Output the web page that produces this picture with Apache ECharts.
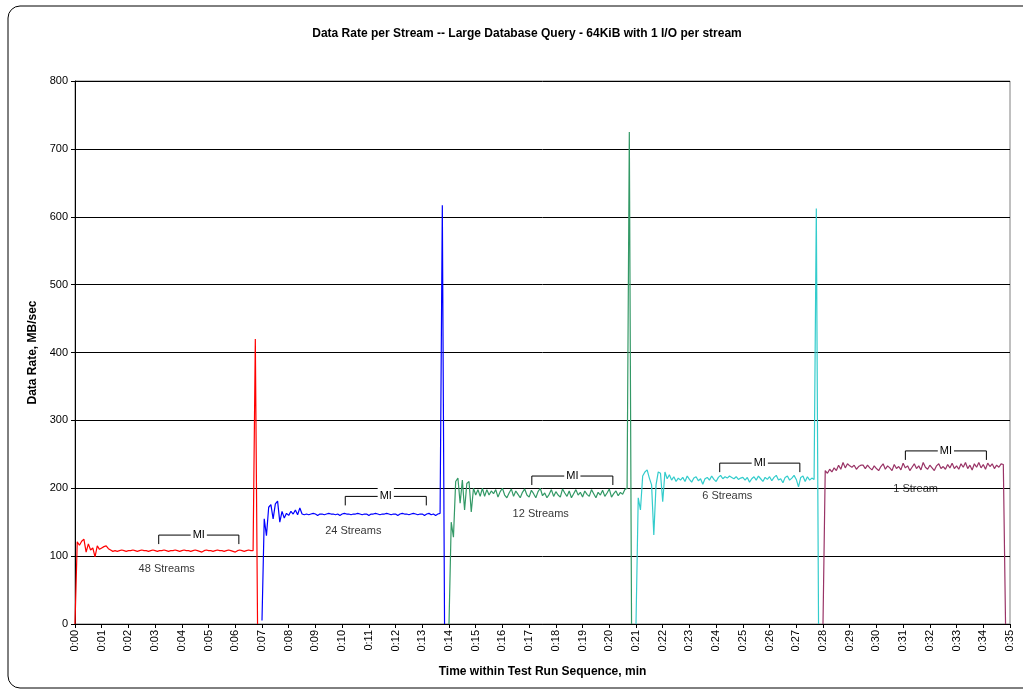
<!DOCTYPE html>
<html>
<head>
<meta charset="utf-8">
<title>Data Rate per Stream</title>
<script src="https://cdn.jsdelivr.net/npm/echarts@6/dist/echarts.min.js"></script>
<style>
  html, body { margin: 0; padding: 0; background: #fff; }
  #eChart { width: 1023px; height: 694px; }
</style>
</head>
<body>
<div id="eChart"></div>
<script>
// sample spacing (seconds) and start time of each run
var sampleStep = 5;
var runStarts = [0, 420, 840, 1260, 1680];
var runNames = ['48 Streams', '24 Streams', '12 Streams', '6 Streams', '1 Stream'];
var runColors = ['#FF0000', '#0000FF', '#339966', '#33CCCC', '#993366'];

// MB/sec per stream
var rate48 = [
    0, 121, 116, 122, 125, 106, 118, 109, 112, 99, 115, 110, 112, 114, 115, 111, 109, 107,
    108, 107, 108, 109, 108, 107, 108, 108, 109, 108,
    107, 108, 109, 108, 108, 107, 108, 109, 108, 107,
    108, 108, 109, 108, 107, 108, 108, 109, 108, 107,
    108, 109, 108, 108, 107, 108, 109, 108, 107, 106,
    108, 109, 108, 108, 107, 108, 109, 108, 108, 107,
    108, 109, 108, 107, 106, 108, 109, 108, 107, 108,
    109, 108,
    108, 420, 0
];
var rate24 = [
    5, 155, 130, 172, 176, 155, 177, 181, 150, 166, 156, 163, 160, 166, 162, 168, 161, 171, 162, 161,
    162, 161, 162, 163, 162, 160, 162, 162, 161, 162,
    163, 162, 162, 161, 162, 160, 162, 163, 162, 162,
    161, 162, 162, 163, 162, 161, 162, 162, 160, 162,
    162, 163, 162, 161, 162, 162, 163, 162, 161, 162,
    162, 160, 162, 163, 162, 162, 161, 162, 163, 162,
    161, 162, 162, 160, 162, 163, 161, 162, 160, 162,
    163, 617, 0
];
var rate12 = [
    0, 150, 128, 210, 215, 178, 212, 168, 207, 210, 165, 200, 190, 198, 188, 200, 188, 198, 190, 196,
    192, 198, 187, 195, 200, 190, 186, 193, 199, 188,
    196, 191, 186, 194, 199, 190, 187, 197, 192, 186,
    195, 200, 189, 193, 186, 191, 198, 188, 195, 190,
    187, 199, 193, 188, 196, 186, 192, 198, 190, 194,
    187, 196, 191, 188, 198, 192, 186, 194, 190, 197,
    188, 193, 199, 187, 192, 196, 189, 194, 191, 198,
    200, 725, 0
];
var rate6 = [
    0, 186, 168, 218, 224, 227, 215, 205, 131, 205, 224, 222, 180, 224, 214, 220, 212, 217, 210, 215,
    212, 216, 210, 218, 213, 209, 215, 217, 211, 214,
    206, 214, 216, 212, 218, 213, 210, 216, 219, 214,
    217, 215, 218, 216, 214, 217, 213, 215, 216, 212,
    216, 209, 214, 217, 212, 218, 214, 210, 216, 213,
    217, 211, 216, 219, 212, 214, 208, 216, 218, 212,
    215, 219, 213, 202, 216, 218, 210, 217, 212, 215,
    213, 612, 0
];
var rate1 = [
    0, 226, 222, 228, 224, 230, 226, 234, 228, 238, 230, 236, 233, 231, 234, 228, 232, 234, 234, 229,
    234, 230, 227, 233, 229, 226, 232, 236, 228, 233,
    230, 226, 235, 229, 232, 227, 237, 230, 233, 226,
    231, 236, 229, 233, 227, 238, 231, 228, 234, 230,
    226, 233, 236, 229, 232, 228, 235, 230, 237, 229,
    233, 228, 236, 231, 238, 229, 234, 227, 236, 231,
    238, 230, 235, 228, 237, 232, 236, 229, 234, 231,
    236, 235, 0
];
var runRates = [rate48, rate24, rate12, rate6, rate1];

// measurement interval brackets: start, end (seconds), level (MB/sec)
var miStart = [188, 607, 1026, 1448, 1865];
var miEnd = [368, 789, 1208, 1628, 2047];
var miLevel = [131, 188, 218, 237, 255];
// run label anchors (seconds, MB/sec)
var labelTime = [206, 625, 1046, 1465, 1888];
var labelRate = [81, 137, 162, 188, 199];

var axisFont = 'Liberation Sans';

function minLabel(v) {
    var m = Math.round(v / 60);
    return '0:' + (m < 10 ? '0' + m : m);
}

var series = [];
runRates.forEach(function (rates, k) {
    series.push({
        name: runNames[k],
        type: 'line',
        showSymbol: false,
        symbol: 'none',
        lineStyle: { color: runColors[k], width: 1.2 },
        data: rates.map(function (v, i) { return [runStarts[k] + i * sampleStep, v]; }),
        z: 3
    });
});

// MI brackets
series.push({
    type: 'custom',
    z: 10,
    silent: true,
    renderItem: function (params, api) {
        var p0 = api.coord([api.value(0), api.value(2)]);
        var p1 = api.coord([api.value(1), api.value(2)]);
        return {
            type: 'group',
            children: [
                {
                    type: 'polyline',
                    shape: { points: [[p0[0], p0[1] + 9], [p0[0], p0[1]], [p1[0], p1[1]], [p1[0], p1[1] + 9]] },
                    style: { stroke: '#000', lineWidth: 1, fill: null }
                },
                {
                    type: 'text',
                    x: (p0[0] + p1[0]) / 2,
                    y: p0[1],
                    style: {
                        text: 'MI', fill: '#000', font: '11px ' + axisFont,
                        align: 'center', verticalAlign: 'middle',
                        backgroundColor: '#fff', padding: [4, 2, 7, 2]
                    }
                }
            ]
        };
    },
    data: miStart.map(function (s, i) { return [s, miEnd[i], miLevel[i]]; })
});

// run labels
series.push({
    type: 'scatter',
    symbolSize: 0,
    silent: true,
    z: 11,
    label: {
        show: true, position: 'inside', formatter: '{b}',
        color: '#000', fontFamily: axisFont, fontSize: 11
    },
    data: labelTime.map(function (t, i) { return { name: runNames[i], value: [t, labelRate[i]] }; })
});

var option = {
    animation: false,
    backgroundColor: '#fff',
    title: {
        text: 'Data Rate per Stream -- Large Database Query - 64KiB with 1 I/O per stream',
        left: 522,
        textAlign: 'center',
        top: 23,
        textStyle: { fontFamily: axisFont, fontSize: 12, fontWeight: 'bold', color: '#000' }
    },
    graphic: [{
        type: 'rect',
        silent: true,
        shape: { x: 8, y: 6, width: 1040, height: 682, r: 12 },
        style: { fill: null, stroke: '#000', lineWidth: 1 }
    }],
    grid: {
        left: 75, right: 13, top: 81, bottom: 70,
        show: true, borderColor: '#808080', borderWidth: 1
    },
    xAxis: {
        type: 'value',
        min: 0, max: 2100, interval: 60,
        name: 'Time within Test Run Sequence, min',
        nameLocation: 'middle',
        nameGap: 42,
        nameTextStyle: { fontFamily: axisFont, fontSize: 12, fontWeight: 'bold', color: '#000' },
        axisLine: { lineStyle: { color: '#000', width: 1 } },
        axisTick: { show: true, length: 4, lineStyle: { color: '#000' } },
        axisLabel: {
            rotate: 90, margin: 6,
            fontFamily: axisFont, fontSize: 11, color: '#000',
            formatter: minLabel
        },
        splitLine: { show: false }
    },
    yAxis: {
        type: 'value',
        min: 0, max: 800, interval: 100,
        name: 'Data Rate, MB/sec',
        nameLocation: 'middle',
        nameRotate: 90,
        nameGap: 36,
        nameTextStyle: { fontFamily: axisFont, fontSize: 12, fontWeight: 'bold', color: '#000' },
        axisLine: { show: true, lineStyle: { color: '#000', width: 1 } },
        axisTick: { show: true, length: 4, lineStyle: { color: '#000' } },
        axisLabel: { fontFamily: axisFont, fontSize: 11, color: '#000', margin: 7 },
        splitLine: { lineStyle: { color: '#000', width: 1 } }
    },
    series: series
};

var chart = echarts.init(document.getElementById('eChart'));
chart.setOption(option);
</script>
</body>
</html>
